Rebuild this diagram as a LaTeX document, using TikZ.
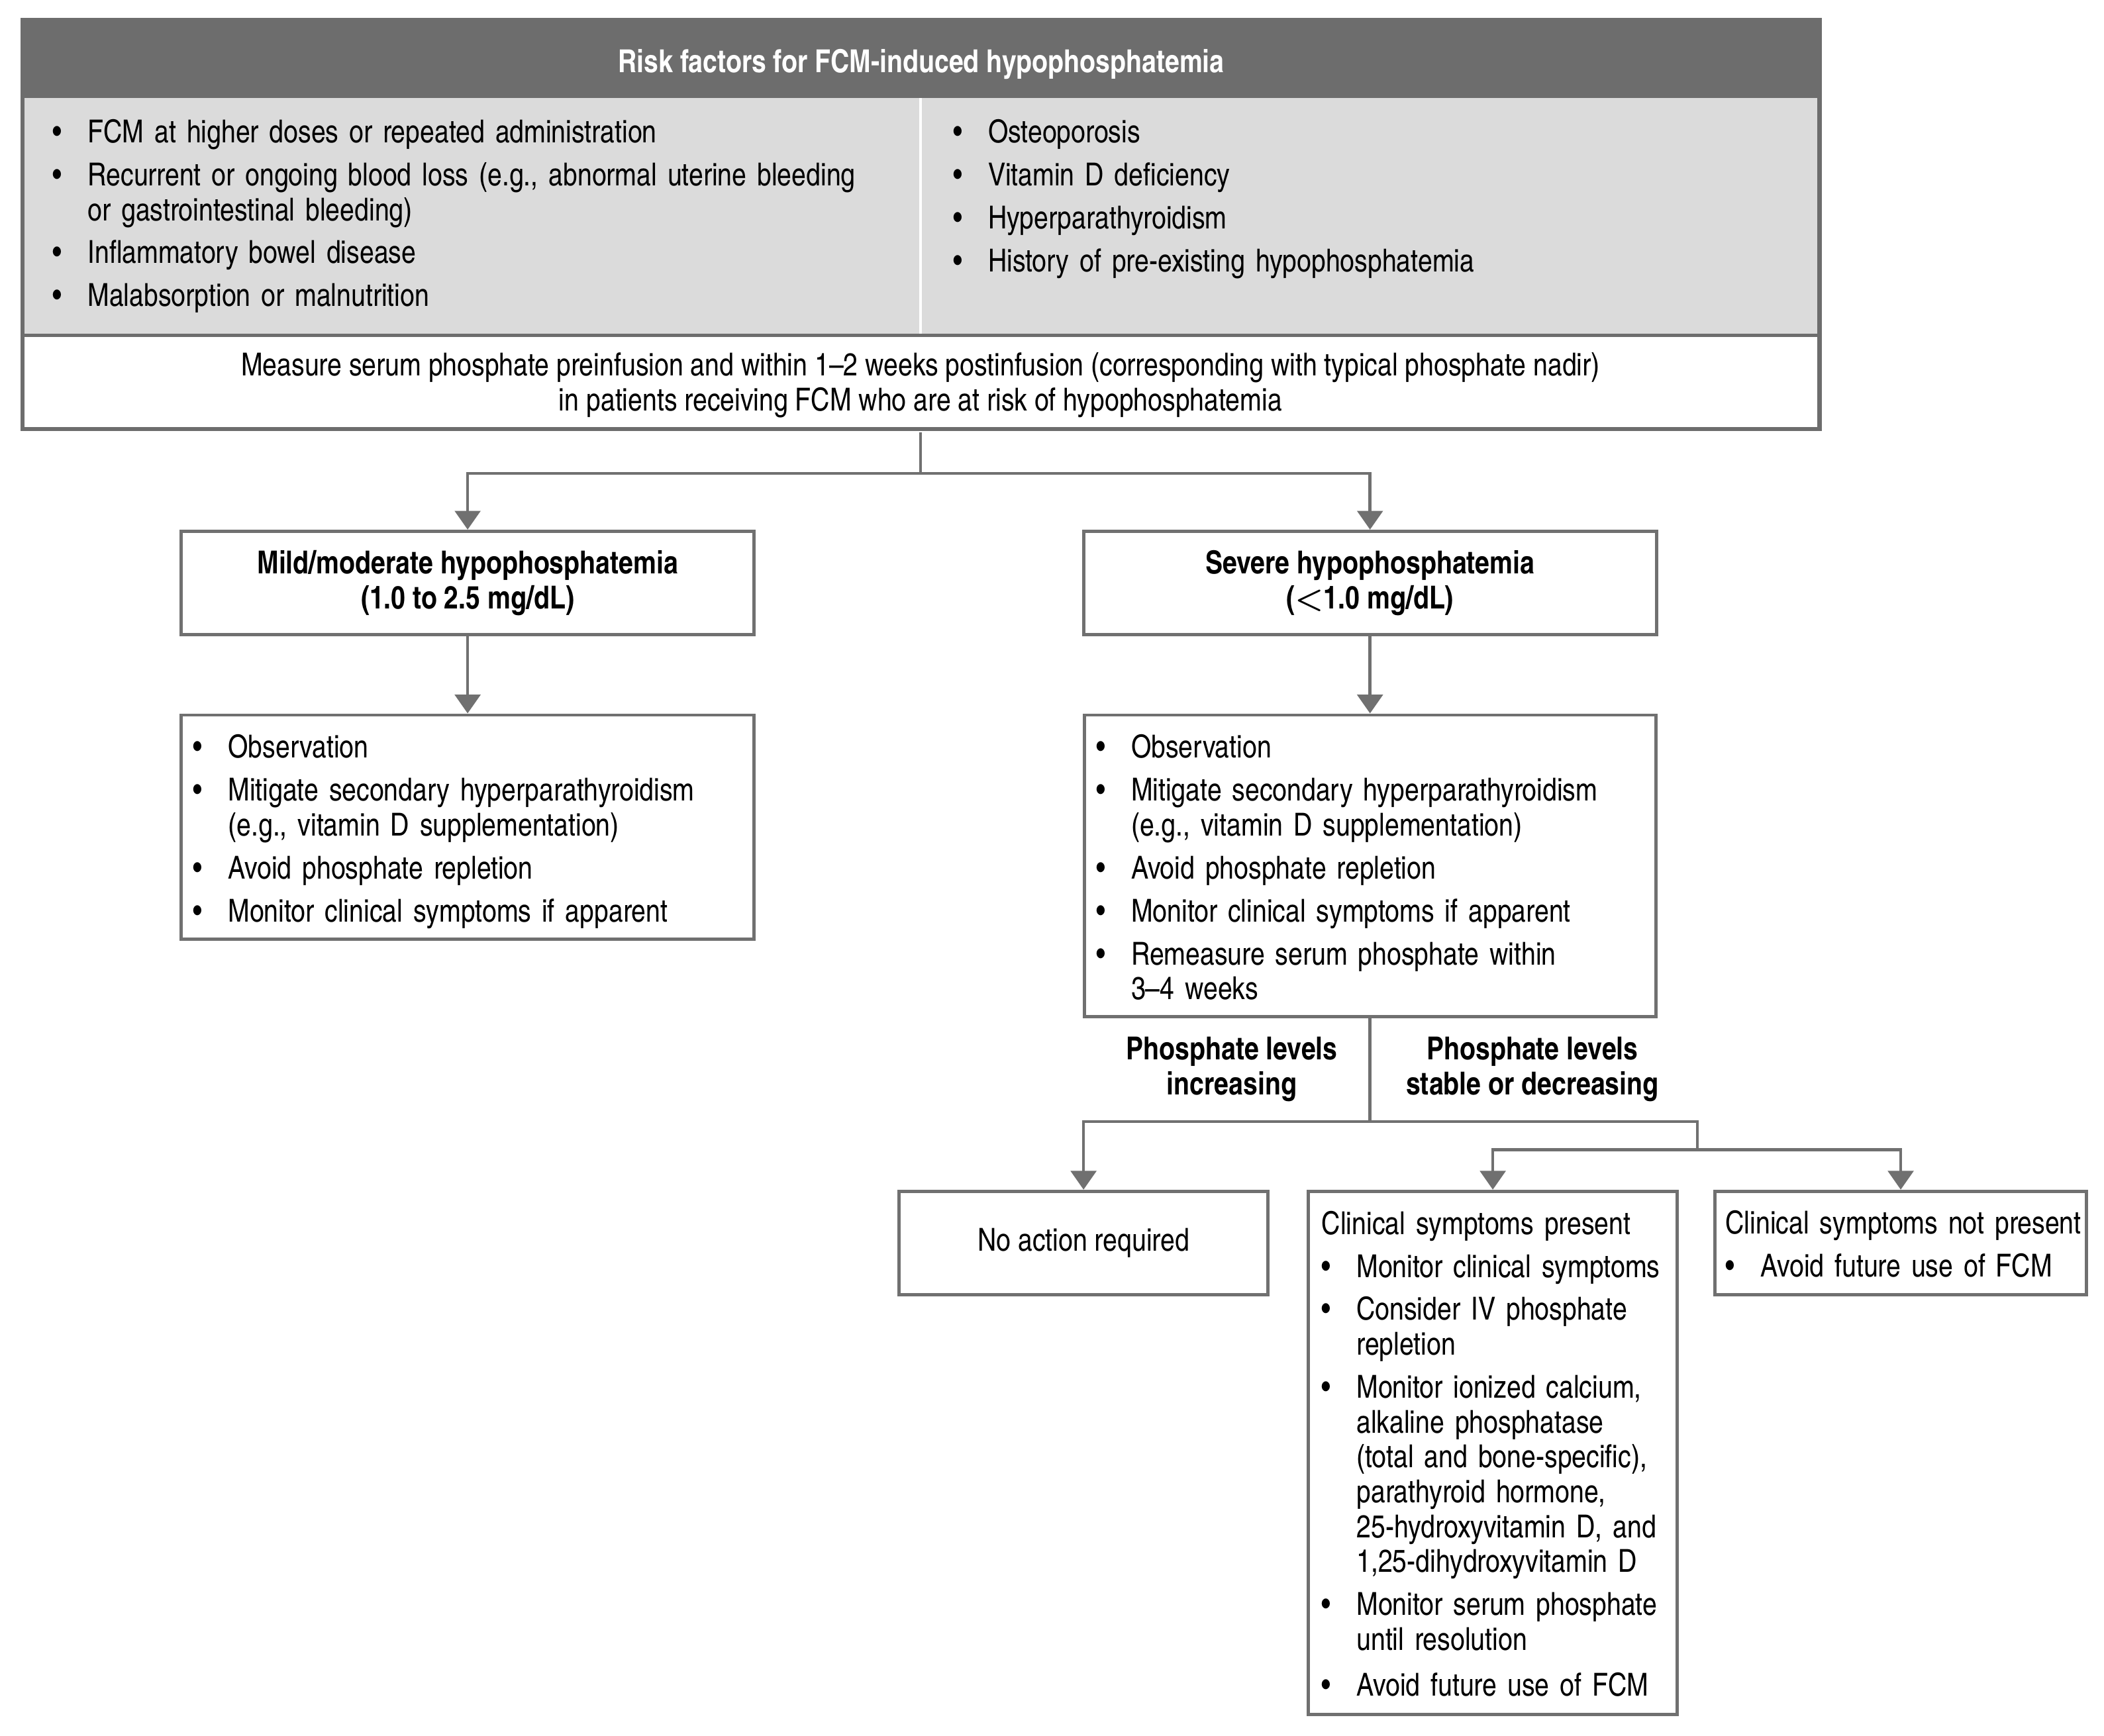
\documentclass[tikz,border=0pt]{standalone}
\usepackage{fontspec}
\setmainfont{texgyreheroscn}[Extension=.otf,UprightFont=*-regular,BoldFont=*-bold,ItalicFont=*-italic,BoldItalicFont=*-bolditalic]
\usetikzlibrary{arrows.meta}

\definecolor{hdgray}{RGB}{109,109,109}
\definecolor{ltgray}{RGB}{219,219,219}
\definecolor{lngray}{RGB}{112,112,112}

% bullet item, lines kept as typed
\newcommand{\bul}[1]{\par\addvspace{3pt}\lineskip=0pt\noindent\makebox[13pt][l]{\textbullet}\begin{tabular}[t]{@{}l@{}}#1\end{tabular}}
% plain title line in a list box
\newcommand{\ttl}[1]{\par\lineskip=0pt\noindent\mbox{#1}}

\tikzset{
  txt/.style={font=\fontsize{11.8}{13}\selectfont},
  bold/.style={font=\fontsize{11.8}{13}\selectfont\bfseries},
  box/.style={draw=lngray, line width=1.2pt, fill=white, txt},
  headbox/.style={box, bold, align=center, minimum width=213.5pt, minimum height=38.5pt},
  listbox/.style={box, inner xsep=4.5pt, inner ysep=0pt},
  lbl/.style={bold, align=center, inner sep=0pt},
  conn/.style={draw=lngray, line width=1.1pt},
  arr/.style={conn, -{Triangle[length=7pt,width=9.5pt]}}
}

\begin{document}
\begin{tikzpicture}[x=0.5pt,y=-0.5pt]
\useasboundingbox (0,0) rectangle (1568,1294);

%% risk factor table
\fill[hdgray] (17,15) rectangle (1356,73);
\fill[ltgray] (17,73) rectangle (1356,250);
\draw[white, line width=0.8pt] (686,73) -- (686,250);
\node[bold, text=white, inner sep=0pt] (risk) at (686.5,48) {Risk factors for FCM-induced hypophosphatemia};
\node[txt, anchor=north west, text width=320pt, inner sep=0pt] (riskl) at (39,74) {%
  \bul{FCM at higher doses or repeated administration}
  \bul{Recurrent or ongoing blood loss (e.g., abnormal uterine bleeding\\or gastrointestinal bleeding)}
  \bul{Inflammatory bowel disease}
  \bul{Malabsorption or malnutrition}};
\node[txt, anchor=north west, text width=300pt, inner sep=0pt] (riskr) at (710,74) {%
  \bul{Osteoporosis}
  \bul{Vitamin D deficiency}
  \bul{Hyperparathyroidism}
  \bul{History of pre-existing hypophosphatemia}};
\node[txt, align=center, minimum width=669pt, minimum height=35pt, inner sep=0pt] (measure) at (686,287) {Measure serum phosphate preinfusion and within 1--2 weeks postinfusion (corresponding with typical phosphate nadir)\\in patients receiving FCM who are at risk of hypophosphatemia};
\draw[hdgray, line width=1.3pt] (17,250) -- (1356,250);
\draw[hdgray, line width=1.5pt] (17,15) rectangle (1356,320);

%% severity
\node[headbox] (mild) at (348.5,434.5) {Mild/moderate hypophosphatemia\\(1.0 to 2.5 mg/dL)};
\node[headbox] (severe) at (1021,434.5) {Severe hypophosphatemia\\(\mbox{\boldmath$<$}1.0 mg/dL)};

\node[listbox, text width=204.5pt, minimum height=83.5pt] (mildlist) at (348.5,616.5) {%
  \bul{Observation}
  \bul{Mitigate secondary hyperparathyroidism\\(e.g., vitamin D supplementation)}
  \bul{Avoid phosphate repletion}
  \bul{Monitor clinical symptoms if apparent}\vspace{2.5pt}};
\node[listbox, text width=204pt, minimum height=112.5pt] (sevlist) at (1021,645.5) {%
  \bul{Observation}
  \bul{Mitigate secondary hyperparathyroidism\\(e.g., vitamin D supplementation)}
  \bul{Avoid phosphate repletion}
  \bul{Monitor clinical symptoms if apparent}
  \bul{Remeasure serum phosphate within\\3--4 weeks}\vspace{2.5pt}};

\node[lbl] (incr) at (918,797) {Phosphate levels\\increasing};
\node[lbl] (decr) at (1142,797) {Phosphate levels\\stable or decreasing};

%% outcomes
\node[box, minimum width=137.5pt, minimum height=38.5pt] (noaction) at (807.5,926.5) {No action required};
\node[listbox, inner xsep=5pt, text width=127.5pt, minimum height=195pt] (clinyes) at (1112.5,1083) {%
  \ttl{Clinical symptoms present}
  \bul{Monitor clinical symptoms}
  \bul{Consider IV phosphate\\repletion}
  \bul{Monitor ionized calcium,\\alkaline phosphatase\\(total and bone-specific),\\parathyroid hormone,\\25-hydroxyvitamin D, and\\1,25-dihydroxyvitamin D}
  \bul{Monitor serum phosphate\\until resolution}
  \bul{Avoid future use of FCM}};
\node[listbox, inner xsep=4pt, text width=130.5pt, minimum height=38.5pt] (clinno) at (1416.5,926.5) {%
  \ttl{Clinical symptoms not present}
  \bul{Avoid future use of FCM}};

%% connectors
\coordinate (split1) at (686,353);
\coordinate (split2) at (1021,836);
\coordinate (split3) at (1265,857);
\draw[conn] (measure.south) -- (split1);
\draw[arr] (split1) -| (mild.north);
\draw[arr] (split1) -| (severe.north);
\draw[arr] (mild.south) -- (mildlist.north);
\draw[arr] (severe.south) -- (sevlist.north);
\draw[conn] (sevlist.south) -- (split2);
\draw[arr] (split2) -| (noaction.north);
\draw[conn] (split2) -| (split3);
\draw[arr] (split3) -| (clinyes.north);
\draw[arr] (split3) -| (clinno.north);

\end{tikzpicture}
\end{document}
